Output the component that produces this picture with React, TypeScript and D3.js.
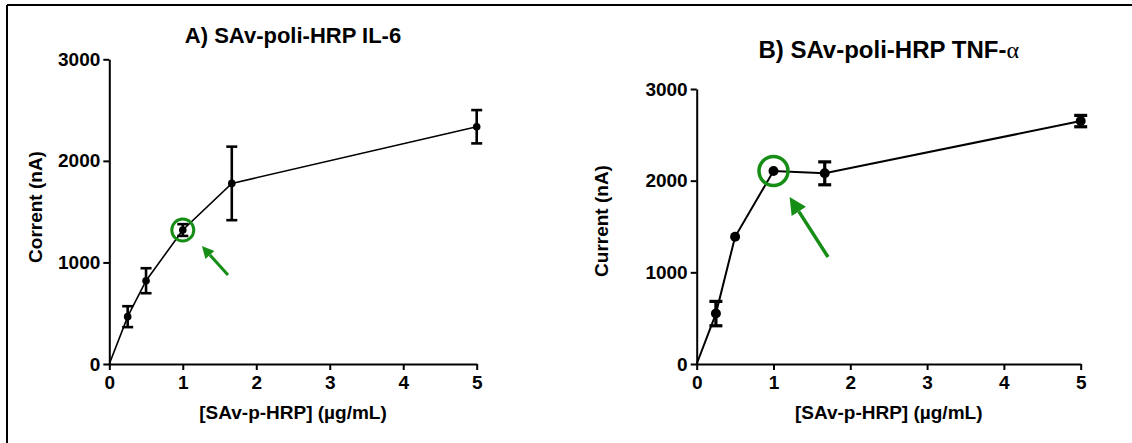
import React, { useEffect, useRef } from 'react';
import * as d3 from 'd3';

// [SAv-p-HRP] concentrations (µg/mL)
const concentrations = [0, 0.25, 0.5, 1, 1.667, 5];
// panel A: IL-6
const il6Current = [0, 466, 820, 1319, 1778, 2336];
const il6Error = [0, 103, 123, 58, 362, 164];
// panel B: TNF-alpha
const tnfCurrent = [0, 550, 1388, 2105, 2080, 2650];
const tnfError = [0, 133, 0, 0, 125, 62];

const xTicks = [0, 1, 2, 3, 4, 5];
const yTicks = [0, 1000, 2000, 3000];

// highlighted point + arrow (tail -> head), in data units
const il6Highlight = [1, 1319];
const il6Arrow = [[1.615, 876], [1.26, 1162]];
const tnfHighlight = [1, 2105];
const tnfArrow = [[1.71, 1167], [1.21, 1821]];

const FONT = '"Liberation Sans", Arial, sans-serif';
const GREEN = '#168e16';

function Panel(props: any) {
  const { left, right, top, bottom, values, errors, titleMain, titleGreek, titleSize, titleY,
    yLabel, yLabelX, yLabelY, dotR, capW, lineW, errW, highlight, circleR, circleW,
    arrow, headLen, headW, arrowW } = props;
  const xRef = useRef<SVGGElement>(null);
  const yRef = useRef<SVGGElement>(null);

  const x = d3.scaleLinear().domain([0, 5]).range([left, right]);
  const y = d3.scaleLinear().domain([0, 3000]).range([bottom, top]);

  useEffect(() => {
    const gx = d3.select(xRef.current);
    gx.call(d3.axisBottom(x).tickValues(xTicks).tickSize(6).tickPadding(6).tickSizeOuter(0).tickFormat(d3.format('d')) as any);
    const gy = d3.select(yRef.current);
    gy.call(d3.axisLeft(y).tickValues(yTicks).tickSize(6).tickPadding(3).tickSizeOuter(0).tickFormat(d3.format('d')) as any);
    [gx, gy].forEach((g: any) => {
      g.attr('font-size', 19).attr('font-family', FONT).attr('font-weight', 'bold');
      g.select('.domain').attr('stroke', '#000').attr('stroke-width', 2);
      g.selectAll('.tick line').attr('stroke', '#000').attr('stroke-width', 2);
      g.selectAll('.tick text').attr('fill', '#000');
    });
  });

  const pts = concentrations.map((c, i) => [c, values[i]] as [number, number]);
  const path = d3.line<[number, number]>().x(d => x(d[0])).y(d => y(d[1]))(pts) || '';

  const tx = x(arrow[0][0]), ty = y(arrow[0][1]);
  const hx = x(arrow[1][0]), hy = y(arrow[1][1]);
  const ang = Math.atan2(hy - ty, hx - tx);
  const bx = hx - headLen * Math.cos(ang), by = hy - headLen * Math.sin(ang);
  const px = -Math.sin(ang) * headW, py = Math.cos(ang) * headW;

  return (
    <g>
      <text x={(left + right) / 2} y={titleY} textAnchor="middle" fontFamily={FONT} fontWeight="bold" fontSize={titleSize}>
        {titleMain}
        {titleGreek ? <tspan fontFamily='"Liberation Serif", serif' fontWeight="normal">{titleGreek}</tspan> : null}
      </text>
      <text transform={`translate(${yLabelX},${yLabelY}) rotate(-90)`} textAnchor="middle" fontFamily={FONT} fontWeight="bold" fontSize={19}>{yLabel}</text>
      <text x={(left + right) / 2} y={419} textAnchor="middle" fontFamily={FONT} fontWeight="bold" fontSize={19}>[SAv-p-HRP] (µg/mL)</text>
      <g ref={xRef} transform={`translate(0,${bottom})`} />
      <g ref={yRef} transform={`translate(${left},0)`} />
      <path d={path} fill="none" stroke="#000" strokeWidth={lineW} />
      {pts.map((d, i) => errors[i] > 0 ? (
        <g key={'e' + i} stroke="#000" strokeWidth={errW}>
          <line x1={x(d[0])} x2={x(d[0])} y1={y(d[1] - errors[i])} y2={y(d[1] + errors[i])} />
          <line x1={x(d[0]) - capW / 2} x2={x(d[0]) + capW / 2} y1={y(d[1] + errors[i])} y2={y(d[1] + errors[i])} />
          <line x1={x(d[0]) - capW / 2} x2={x(d[0]) + capW / 2} y1={y(d[1] - errors[i])} y2={y(d[1] - errors[i])} />
        </g>
      ) : null)}
      {pts.slice(1).map((d, i) => (
        <circle key={'p' + i} cx={x(d[0])} cy={y(d[1])} r={dotR} fill="#000" />
      ))}
      <circle cx={x(highlight[0])} cy={y(highlight[1])} r={circleR} fill="none" stroke={GREEN} strokeWidth={circleW} />
      <line x1={tx} y1={ty} x2={bx} y2={by} stroke={GREEN} strokeWidth={arrowW} />
      <polygon points={`${hx},${hy} ${bx + px},${by + py} ${bx - px},${by - py}`} fill={GREEN} />
    </g>
  );
}

export default function App() {
  return (
    <svg width={1132} height={443} style={{ position: 'absolute', left: 0, top: 0, background: '#fff' }}>
      <line x1={7} x2={1132} y1={5} y2={5} stroke="#000" strokeWidth={2} />
      <line x1={7} x2={7} y1={5} y2={443} stroke="#000" strokeWidth={2} />
      <Panel left={109.3} right={476.7} top={59.3} bottom={364}
        values={il6Current} errors={il6Error}
        titleMain="A) SAv-poli-HRP IL-6" titleSize={22} titleY={43}
        yLabel="Corrent (nA)" yLabelX={42} yLabelY={207}
        dotR={3.8} capW={11} lineW={1.6} errW={2.6}
        highlight={il6Highlight} circleR={11} circleW={3}
        arrow={il6Arrow} headLen={12} headW={6} arrowW={3} />
      <Panel left={696.7} right={1080.7} top={89} bottom={364}
        values={tnfCurrent} errors={tnfError}
        titleMain="B) SAv-poli-HRP TNF-" titleGreek="α" titleSize={24} titleY={58}
        yLabel="Current (nA)" yLabelX={608} yLabelY={221}
        dotR={5} capW={13} lineW={2} errW={3.2}
        highlight={tnfHighlight} circleR={14.5} circleW={3.5}
        arrow={tnfArrow} headLen={17} headW={8.5} arrowW={3.5} />
    </svg>
  );
}
